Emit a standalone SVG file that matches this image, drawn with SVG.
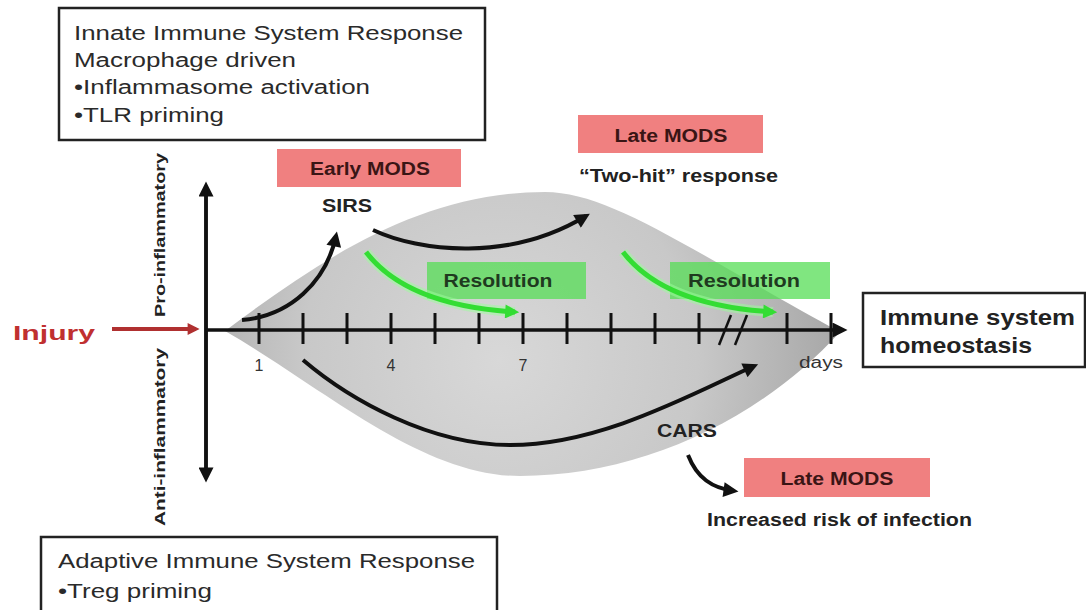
<svg xmlns="http://www.w3.org/2000/svg" width="1086" height="610" viewBox="0 0 1086 610">
<style>
text{font-family:"Liberation Sans",Arial,sans-serif;}
.box{fill:#fff;stroke:#222;stroke-width:2.5;}
.t{font-size:20px;fill:#2a2a2a;}
.b{font-weight:bold;}
.mods{fill:#f08080;}
.modst{font-size:18px;font-weight:bold;fill:#3a1515;text-anchor:middle;}
.res{fill:#55dd55;fill-opacity:0.75;}
.rest{font-size:18px;font-weight:bold;fill:#1f3a1f;text-anchor:middle;}
.blk{fill:none;stroke:#111;stroke-width:4;}
.grn{fill:none;stroke:#33dd33;stroke-width:5;}
.glow{fill:none;stroke:#99ff99;stroke-width:10;stroke-opacity:0.5;}
.tick{stroke:#111;stroke-width:3;}
.num{font-size:16px;fill:#333;text-anchor:middle;}
</style>
<defs>
<marker id="ah" viewBox="0 0 10 10" refX="7" refY="5" markerWidth="16" markerHeight="15" markerUnits="userSpaceOnUse" orient="auto"><path d="M0,0 L10,5 L0,10 z" fill="#111"/></marker>
<marker id="ahg" viewBox="0 0 10 10" refX="7" refY="5" markerWidth="16" markerHeight="14" markerUnits="userSpaceOnUse" orient="auto"><path d="M0,0 L10,5 L0,10 z" fill="#33dd33"/></marker>
<marker id="ahr" viewBox="0 0 10 10" refX="7" refY="5" markerWidth="14" markerHeight="12" markerUnits="userSpaceOnUse" orient="auto"><path d="M0,0 L10,5 L0,10 z" fill="#b03030"/></marker>
<radialGradient id="lensg" cx="500" cy="360" r="330" gradientUnits="userSpaceOnUse">
<stop offset="0" stop-color="#d8d8d8"/>
<stop offset="0.6" stop-color="#c8c8c8"/>
<stop offset="1" stop-color="#a9a9a9"/>
</radialGradient>
</defs>
<rect width="1086" height="610" fill="#fff"/>

<g id="lens">
<path d="M 225 331 C 320 260, 420 192, 545 192 C 610 192, 690 250, 840 332 C 760 420, 640 476, 520 476 C 420 476, 320 385, 225 331 Z" fill="url(#lensg)"/>
</g>

<g id="top-box">
<rect class="box" x="59" y="8" width="426" height="132"/>
<text class="t" x="74" y="40" textLength="389" lengthAdjust="spacingAndGlyphs">Innate Immune System Response</text>
<text class="t" x="74" y="67" textLength="222" lengthAdjust="spacingAndGlyphs">Macrophage driven</text>
<text class="t" x="74" y="94" textLength="296" lengthAdjust="spacingAndGlyphs">•Inflammasome activation</text>
<text class="t" x="74" y="122" textLength="150" lengthAdjust="spacingAndGlyphs">•TLR priming</text>
</g>

<g id="bottom-box">
<rect class="box" x="41" y="537" width="456" height="80"/>
<text class="t" x="58" y="568" textLength="417" lengthAdjust="spacingAndGlyphs">Adaptive Immune System Response</text>
<text class="t" x="58" y="598" textLength="154" lengthAdjust="spacingAndGlyphs">•Treg priming</text>
</g>

<g id="early-mods">
<rect class="mods" x="277" y="149" width="184" height="38"/>
<text class="modst" x="370" y="175" textLength="120" lengthAdjust="spacingAndGlyphs">Early MODS</text>
</g>

<g id="sirs">
<text class="b" x="347" y="212" font-size="18" fill="#222" text-anchor="middle" textLength="50" lengthAdjust="spacingAndGlyphs">SIRS</text>
</g>

<g id="late-mods-top">
<rect class="mods" x="578" y="115" width="185" height="38"/>
<text class="modst" x="671" y="142" textLength="113" lengthAdjust="spacingAndGlyphs">Late MODS</text>
</g>

<g id="two-hit">
<text class="b" x="579" y="182" font-size="18" fill="#222" textLength="199" lengthAdjust="spacingAndGlyphs">“Two-hit” response</text>
</g>

<g id="resolution-1">
<rect class="res" x="427" y="262" width="159" height="37"/>
<text class="rest" x="498" y="287" textLength="109" lengthAdjust="spacingAndGlyphs">Resolution</text>
</g>

<g id="resolution-2">
<rect class="res" x="670" y="262" width="160" height="37"/>
<text class="rest" x="744" y="287" textLength="112" lengthAdjust="spacingAndGlyphs">Resolution</text>
</g>

<g id="axes">
<line x1="206" y1="476" x2="206" y2="186" class="blk" style="stroke-width:3.5" marker-end="url(#ah)"/>
<line x1="206" y1="186" x2="206" y2="478" class="blk" style="stroke-width:3.5" marker-end="url(#ah)"/>
<line x1="206" y1="330" x2="843" y2="330" class="blk" style="stroke-width:3.5" marker-end="url(#ah)"/>
<g id="ticks">
<line class="tick" x1="259" y1="313" x2="259" y2="344"/>
<line class="tick" x1="303" y1="313" x2="303" y2="344"/>
<line class="tick" x1="347" y1="313" x2="347" y2="344"/>
<line class="tick" x1="391" y1="313" x2="391" y2="344"/>
<line class="tick" x1="435" y1="313" x2="435" y2="344"/>
<line class="tick" x1="479" y1="313" x2="479" y2="344"/>
<line class="tick" x1="523" y1="313" x2="523" y2="344"/>
<line class="tick" x1="567" y1="313" x2="567" y2="344"/>
<line class="tick" x1="611" y1="313" x2="611" y2="344"/>
<line class="tick" x1="655" y1="313" x2="655" y2="344"/>
<line class="tick" x1="699" y1="313" x2="699" y2="344"/>
<line class="tick" x1="787" y1="313" x2="787" y2="344"/>
<line class="tick" x1="831" y1="313" x2="831" y2="344"/>
<line class="tick" x1="719" y1="345" x2="731" y2="315" style="stroke-width:2.5"/>
<line class="tick" x1="735" y1="345" x2="747" y2="315" style="stroke-width:2.5"/>
</g>
<text class="num" x="259" y="371">1</text>
<text class="num" x="391" y="371">4</text>
<text class="num" x="523" y="371">7</text>
<text x="799" y="368" font-size="16" fill="#333" textLength="44" lengthAdjust="spacingAndGlyphs">days</text>
</g>

<g id="pro-label">
<text class="b" transform="translate(165 235) rotate(-90)" font-size="15" fill="#222" text-anchor="middle" textLength="164" lengthAdjust="spacingAndGlyphs">Pro-inflammatory</text>
</g>
<g id="anti-label">
<text class="b" transform="translate(165 437) rotate(-90)" font-size="15" fill="#222" text-anchor="middle" textLength="178" lengthAdjust="spacingAndGlyphs">Anti-inflammatory</text>
</g>

<g id="injury">
<text class="b" x="13" y="340" font-size="21" fill="#c03030" textLength="82" lengthAdjust="spacingAndGlyphs">Injury</text>
</g>

<g id="homeostasis">
<rect class="box" x="863" y="293" width="222" height="74"/>
<text class="b" x="880" y="325" font-size="22" fill="#222" textLength="195" lengthAdjust="spacingAndGlyphs">Immune system</text>
<text class="b" x="880" y="353" font-size="22" fill="#222" textLength="152" lengthAdjust="spacingAndGlyphs">homeostasis</text>
</g>

<g id="cars">
<text class="b" x="687" y="437" font-size="18" fill="#222" text-anchor="middle" textLength="60" lengthAdjust="spacingAndGlyphs">CARS</text>
</g>

<g id="late-mods-bottom">
<rect class="mods" x="744" y="458" width="186" height="39"/>
<text class="modst" x="837" y="485" textLength="113" lengthAdjust="spacingAndGlyphs">Late MODS</text>
</g>

<g id="infection">
<text class="b" x="707" y="526" font-size="18" fill="#222" textLength="265" lengthAdjust="spacingAndGlyphs">Increased risk of infection</text>
</g>

<g id="connectors">
<line x1="112" y1="329" x2="196" y2="329" stroke="#b03030" stroke-width="4" marker-end="url(#ahr)"/>
<path class="blk" d="M 242 320 C 290 316, 326 282, 336 236" marker-end="url(#ah)"/>
<path class="blk" d="M 373 230 C 420 252, 510 262, 586 216" marker-end="url(#ah)"/>
<path class="blk" d="M 303 360 C 350 400, 430 445, 510 445 C 600 445, 690 395, 754 366" marker-end="url(#ah)"/>
<path class="blk" d="M 688 455 C 697 478, 712 488, 734 491" marker-end="url(#ah)"/>
<path class="glow" d="M 366 252 C 395 290, 450 308, 515 312"/>
<path class="grn" d="M 366 252 C 395 290, 450 308, 515 312" marker-end="url(#ahg)"/>
<path class="glow" d="M 623 252 C 652 290, 707 308, 773 312"/>
<path class="grn" d="M 623 252 C 652 290, 707 308, 773 312" marker-end="url(#ahg)"/>
</g>
</svg>
